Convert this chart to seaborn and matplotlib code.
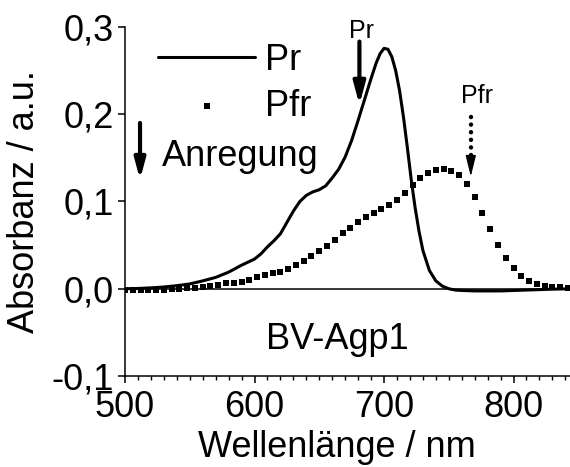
import numpy as np
import pandas as pd
import matplotlib
matplotlib.use("Agg")
import matplotlib.pyplot as plt
import seaborn as sns
from matplotlib.ticker import MultipleLocator, FixedLocator

# --- spectra -------------------------------------------------------------
# Pr form (red-absorbing), continuous trace
pr_wavelength = [500, 510, 520, 530, 540, 550, 560, 570, 580, 590, 600, 605,
                 610, 615, 620, 625, 630, 635, 640, 645, 650, 655, 660, 665,
                 670, 675, 680, 685, 690, 694, 697, 700, 703, 706, 709, 712,
                 715, 718, 721, 724, 727, 730, 735, 740, 745, 750, 755, 760,
                 770, 780, 790, 800, 810, 820, 830, 844]
pr_absorbance = [0.0, 0.0003, 0.001, 0.002, 0.0035, 0.0055, 0.009, 0.013,
                 0.019, 0.027, 0.034, 0.040, 0.048, 0.055, 0.063, 0.076,
                 0.089, 0.100, 0.107, 0.111, 0.1135, 0.118, 0.127, 0.137,
                 0.151, 0.170, 0.193, 0.217, 0.241, 0.259, 0.2695, 0.2755,
                 0.2745, 0.266, 0.250, 0.227, 0.197, 0.162, 0.125, 0.093,
                 0.066, 0.044, 0.021, 0.009, 0.003, 0.0, -0.0015, -0.002,
                 -0.0025, -0.0025, -0.0025, -0.002, -0.0015, -0.001, -0.0005,
                 0.0]

# Pfr form (far-red-absorbing), sampled every 6 nm
pfr_wavelength = list(range(500, 843, 6))
pfr_absorbance = [-0.001, -0.001, -0.001, -0.001, -0.001, -0.001, -0.0005,
                  0.0, 0.0005, 0.001, 0.0015, 0.003, 0.0045, 0.006, 0.007,
                  0.008, 0.010, 0.013, 0.016, 0.0175, 0.0195, 0.023, 0.027,
                  0.032, 0.037, 0.043, 0.049, 0.056, 0.064, 0.070, 0.077,
                  0.082, 0.087, 0.091, 0.096, 0.102, 0.110, 0.119, 0.127,
                  0.133, 0.136, 0.1375, 0.1355, 0.1305, 0.1195, 0.105, 0.087,
                  0.069, 0.050, 0.035, 0.024, 0.015, 0.009, 0.0055, 0.0035,
                  0.002, 0.0015, 0.001]

x_ticks = [500, 600, 700, 800]
y_ticks = [-0.1, 0.0, 0.1, 0.2, 0.3]
y_tick_labels = ["-0,1", "0,0", "0,1", "0,2", "0,3"]

pr_df = pd.DataFrame({"wl": pr_wavelength, "A": pr_absorbance})
pfr_df = pd.DataFrame({"wl": pfr_wavelength, "A": pfr_absorbance})

# --- style ---------------------------------------------------------------
sns.set_style("ticks")
plt.rcParams["font.family"] = ["Liberation Sans", "DejaVu Sans"]
plt.rcParams["axes.linewidth"] = 1.1
plt.rcParams["text.color"] = "black"
plt.rcParams["axes.labelcolor"] = "black"
plt.rcParams["axes.edgecolor"] = "black"
plt.rcParams["xtick.color"] = "black"
plt.rcParams["ytick.color"] = "black"

fig = plt.figure(figsize=(5.7, 4.67), dpi=100)
ax = fig.add_axes([0.2193, 0.1949, 0.7807, 0.7473])

ax.axhline(0.0, color="black", lw=1.1, zorder=1)

sns.lineplot(data=pr_df, x="wl", y="A", ax=ax, color="black", lw=2.2,
             label="Pr", sort=False, zorder=3)
sns.scatterplot(data=pfr_df, x="wl", y="A", ax=ax, color="black", marker="s",
                s=14, linewidth=0, label="Pfr", zorder=3)

ax.set_xlim(500, 843.6)
ax.set_ylim(-0.1, 0.3)
ax.xaxis.set_major_locator(FixedLocator(x_ticks))
ax.xaxis.set_minor_locator(MultipleLocator(10))
ax.set_yticks(y_ticks)
ax.set_yticklabels(y_tick_labels)
ax.tick_params(axis="both", which="major", direction="out", length=5,
               width=1.1, labelsize=26, color="black", labelcolor="black")
ax.tick_params(axis="x", which="major", pad=5)
ax.tick_params(axis="y", which="major", pad=3)
ax.tick_params(axis="x", which="minor", direction="out", length=3, width=1.0,
               color="black")
sns.despine(ax=ax, top=True, right=True)

ax.set_xlabel("Wellenlänge / nm", fontsize=26)
ax.set_ylabel("Absorbanz / a.u.", fontsize=26)
ax.xaxis.set_label_coords(0.4755, -0.155)
ax.yaxis.set_label_coords(-0.1865, 0.5)

leg = ax.legend(loc="upper left", bbox_to_anchor=(0.074, 0.955), frameon=False,
                fontsize=26, handlelength=2.69, handletextpad=0.28,
                labelspacing=0.3, borderpad=0, borderaxespad=0,
                scatterpoints=1)

# --- annotations ---------------------------------------------------------
ax.annotate("", xy=(511.6, 0.125), xytext=(511.6, 0.19),
            arrowprops=dict(arrowstyle="-|>,head_length=1.2,head_width=0.32",
                            lw=3.0, color="black", shrinkA=0, shrinkB=0))
ax.text(528.3, 0.1412, "Anregung", fontsize=26, ha="left", va="baseline")

ax.annotate("", xy=(681, 0.2108), xytext=(681, 0.2833),
            arrowprops=dict(arrowstyle="-|>,head_length=1.3,head_width=0.35",
                            lw=3.0, color="black", shrinkA=0, shrinkB=0))
ax.text(682.7, 0.287, "Pr", fontsize=18, ha="center", va="baseline")

ax.plot([767, 767], [0.197, 0.146], color="black", lw=3.2,
        linestyle=(0, (0.01, 1.7)), dash_capstyle="round", solid_capstyle="round")
ax.annotate("", xy=(767, 0.1286), xytext=(767, 0.146),
            arrowprops=dict(arrowstyle="-|>,head_length=1.3,head_width=0.32",
                            lw=1.0, color="black", shrinkA=0, shrinkB=0))
ax.text(771.6, 0.2134, "Pfr", fontsize=18, ha="center", va="baseline")

ax.text(663.7, -0.0687, "BV-Agp1", fontsize=26, ha="center", va="baseline")

fig.savefig("out.png", dpi=100)
